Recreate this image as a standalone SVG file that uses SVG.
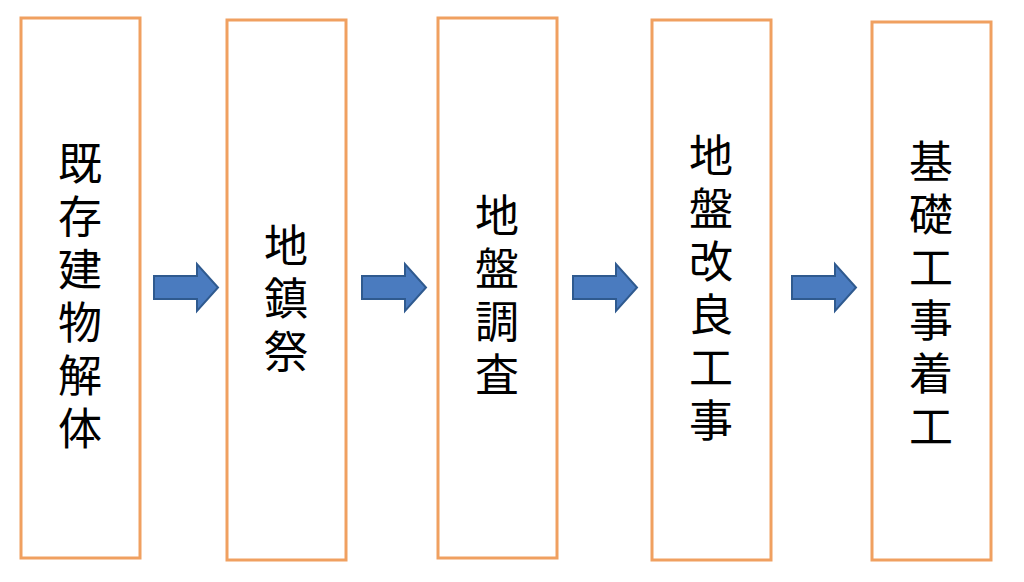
<svg xmlns="http://www.w3.org/2000/svg" width="1024" height="582" viewBox="0 0 1024 582">
<style>
.box{fill:#fff;stroke:#f0a060;stroke-width:3}
.t{font-family:"Noto Sans CJK JP","Noto Sans CJK SC",sans-serif;font-size:44px;fill:#000;text-anchor:middle}
.arr{fill:#4a7bbf;stroke:#2f5a8f;stroke-width:2}
</style>
<rect width="1024" height="582" fill="#fff"/>
<g id="n1"><rect class="box" x="21" y="18" width="119" height="540"/>
<text class="t" x="80" y="180">既</text><text class="t" x="80" y="233">存</text><text class="t" x="80" y="286">建</text><text class="t" x="80" y="339">物</text><text class="t" x="80" y="392">解</text><text class="t" x="80" y="445">体</text></g>
<g id="n2"><rect class="box" x="227" y="20" width="119" height="540"/>
<text class="t" x="286" y="262">地</text><text class="t" x="286" y="315">鎮</text><text class="t" x="286" y="368">祭</text></g>
<g id="n3"><rect class="box" x="438" y="18" width="119" height="540"/>
<text class="t" x="497" y="232">地</text><text class="t" x="497" y="285">盤</text><text class="t" x="497" y="338">調</text><text class="t" x="497" y="391">査</text></g>
<g id="n4"><rect class="box" x="652" y="20" width="119" height="540"/>
<text class="t" x="711" y="172">地</text><text class="t" x="711" y="225">盤</text><text class="t" x="711" y="278">改</text><text class="t" x="711" y="331">良</text><text class="t" x="711" y="384">工</text><text class="t" x="711" y="437">事</text></g>
<g id="n5"><rect class="box" x="872" y="22" width="119" height="538"/>
<text class="t" x="931" y="178">基</text><text class="t" x="931" y="231">礎</text><text class="t" x="931" y="284">工</text><text class="t" x="931" y="337">事</text><text class="t" x="931" y="390">着</text><text class="t" x="931" y="443">工</text></g>
<g id="connectors">
<path class="arr" d="M154 276H197V264L218 287.5L197 311V299H154Z"/>
<path class="arr" d="M362 276H405V264L426 287.5L405 311V299H362Z"/>
<path class="arr" d="M573 276H616V264L637 287.5L616 311V299H573Z"/>
<path class="arr" d="M792 276H835V264L856 287.5L835 311V299H792Z"/>
</g>
</svg>
